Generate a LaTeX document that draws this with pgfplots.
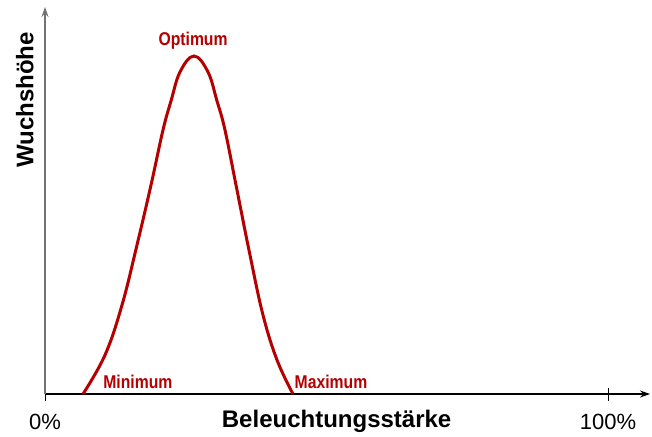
\documentclass[border=0pt]{standalone}
\usepackage{fontspec}
\setmainfont{Liberation Sans}
\newfontfamily\condbold[FakeStretch=0.85]{Liberation Sans Bold}
\usepackage{pgfplots}
\pgfplotsset{compat=1.18}
\usetikzlibrary{arrows.meta}
\definecolor{curvered}{RGB}{180,0,0}
\begin{document}
\begin{tikzpicture}
\path (0,0) rectangle (652bp,434bp);
\begin{axis}[
  at={(45bp,40bp)}, anchor=origin,
  scale only axis,
  width=605bp, height=387bp,
  xmin=0, xmax=107.46, ymin=0, ymax=387,
  axis lines=left,
  x axis line style={-{Stealth[length=10bp,width=7bp]}, black, line width=1.1bp},
  y axis line style={-{Stealth[length=10bp,width=7bp]}, black!55, line width=1.1bp},
  xtick={0,100}, xticklabels={0\%,100\%},
  ytick=\empty,
  tick align=center,
  major tick length=13bp,
  tick style={black, line width=0.8bp},
  /pgf/number format/assume math mode=true,
  xticklabel style={anchor=base, font=\fontsize{22bp}{26bp}\selectfont, yshift=-29bp},
  xlabel={Beleuchtungsstärke},
  ylabel={Wuchshöhe},
  xlabel style={at={(axis description cs:0.482,0)}, anchor=base, yshift=-33.7bp, font=\bfseries\fontsize{24bp}{28bp}\selectfont},
  ylabel style={at={(axis description cs:-0.0193,0.7597)}, anchor=base, font=\bfseries\fontsize{24bp}{28bp}\selectfont},
  clip=false,
]
\addplot[curvered, line width=3bp, smooth, tension=0.65] coordinates {
(6.75,0)
(10.66,39)
(13.68,89)
(16.34,149)
(18.83,209)
(20.96,264)
(22.38,293)
(23.98,322)
(26.47,338)
(28.95,322)
(30.55,293)
(31.97,264)
(34.10,204)
(36.41,139)
(38.72,79)
(41.21,34)
(44.05,0)
};
\node[text=curvered, font=\condbold\fontsize{18.5bp}{22bp}\selectfont] at (axis cs:26.3,353) {Optimum};
\node[text=curvered, font=\condbold\fontsize{18.5bp}{22bp}\selectfont] at (axis cs:16.5,12) {Minimum};
\node[text=curvered, font=\condbold\fontsize{18.5bp}{22bp}\selectfont] at (axis cs:50.8,12) {Maximum};
\end{axis}
\end{tikzpicture}
\end{document}
